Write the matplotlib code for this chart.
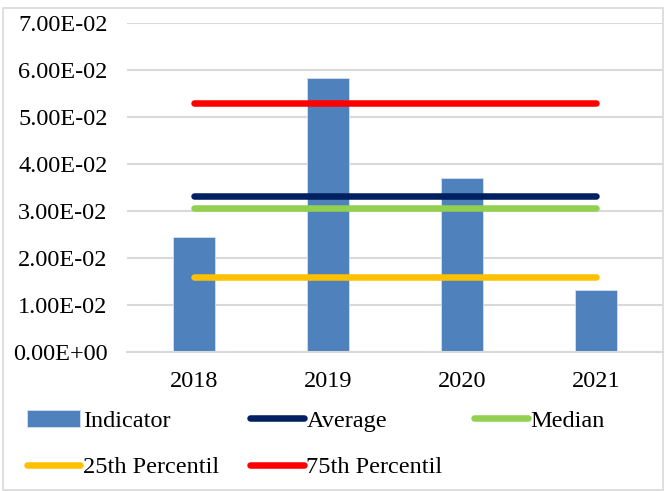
import numpy as np
import matplotlib.pyplot as plt
from matplotlib.patches import Rectangle

years = ["2018", "2019", "2020", "2021"]
indicator = [0.0245, 0.0583, 0.0370, 0.0132]
average = [0.03325] * 4
median = [0.03075] * 4
pct25 = [0.0160] * 4
pct75 = [0.0530] * 4

plt.rcParams["font.family"] = ["Liberation Serif", "DejaVu Serif"]

fig = plt.figure(figsize=(6.65, 4.91), dpi=100)
ax = fig.add_axes([0.191, 0.283, 0.806, 0.670])

x = np.arange(len(years))
bars = ax.bar(x, indicator, width=0.32, color="#4F81BD", edgecolor="#D6E0EE",
              linewidth=0.6, label="Indicator", zorder=2)
l_avg, = ax.plot(x, average, color="#002060", lw=4.7, solid_capstyle="round", label="Average", zorder=3)
l_med, = ax.plot(x, median, color="#92D050", lw=4.7, solid_capstyle="round", label="Median", zorder=3)
l_25, = ax.plot(x, pct25, color="#FFC000", lw=4.7, solid_capstyle="round", label="25th Percentil", zorder=3)
l_75, = ax.plot(x, pct75, color="#FF0000", lw=4.7, solid_capstyle="round", label="75th Percentil", zorder=3)

ax.set_xlim(-0.5, 3.5)
ax.set_ylim(0, 0.07)
ticks = np.arange(0, 0.0701, 0.01)
ax.set_yticks(ticks)
ax.set_yticklabels([f"{v:.2E}" for v in ticks])
ax.set_xticks(x)
ax.set_xticklabels(years)
ax.tick_params(axis="both", length=0, labelsize=17.5, colors="black")
ax.tick_params(axis="y", pad=14)
ax.tick_params(axis="x", pad=14)
ax.grid(axis="y", color="#D9D9D9", lw=1.5, zorder=0)
for s in ["top", "right", "left"]:
    ax.spines[s].set_visible(False)
ax.spines["bottom"].set_color("#D9D9D9")
ax.spines["bottom"].set_linewidth(1.5)

# row-major order for a 3-column legend
handles = [bars, l_25, l_avg, l_75, l_med]
fig.legend(handles, [h.get_label() for h in handles], ncol=3, loc="upper left",
           bbox_to_anchor=(0.022, 0.19), frameon=False, fontsize=17.5,
           handlelength=2.2, handletextpad=0.1, columnspacing=1.3,
           labelspacing=1.0, borderpad=0)

fig.patches.append(Rectangle((0.004, 0.002), 0.993, 0.982, transform=fig.transFigure,
                             fill=False, edgecolor="#D9D9D9", lw=1.2))

fig.savefig("out.png", dpi=100)
